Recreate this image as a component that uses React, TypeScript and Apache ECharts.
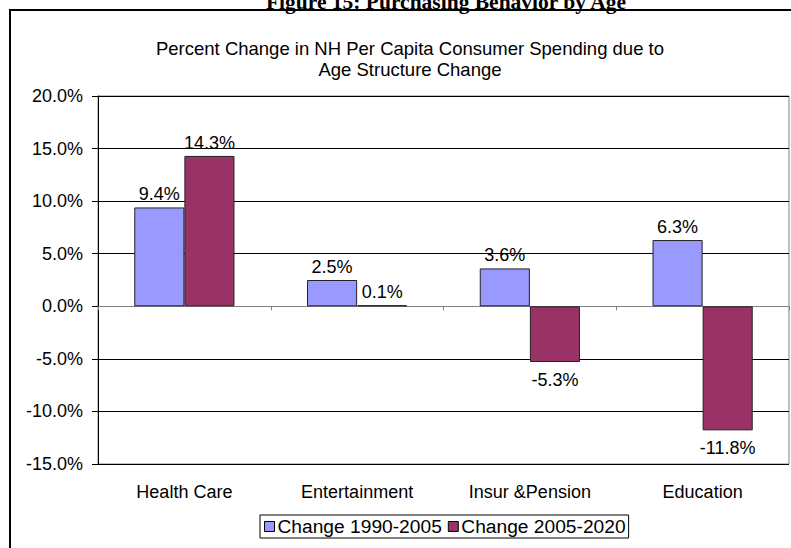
import React, { useEffect, useRef } from "react";
import * as echarts from "echarts";

const categories = ["Health Care", "Entertainment", "Insur &Pension", "Education"];
const series1990_2005 = [9.4, 2.5, 3.6, 6.3];
const series2005_2020 = [14.3, 0.1, -5.3, -11.8];
const seriesNames = ["Change 1990-2005", "Change 2005-2020"];
const pageTitle = "Figure 15: Purchasing Behavior by Age";
const chartTitle = "Percent Change in NH Per Capita Consumer Spending due to\nAge Structure Change";

const FONT = "Arial, 'Liberation Sans', sans-serif";

function toData(vals: number[]) {
  return vals.map((v) => ({
    value: v,
    label: v < 0 ? { position: "bottom", distance: 9 } : { position: "top", distance: 4 },
  }));
}

export default function App() {
  const ref = useRef<HTMLDivElement>(null);
  useEffect(() => {
    if (!ref.current) return;
    const chart = echarts.init(ref.current, null, { renderer: "svg" });
    const labelCfg = {
      show: true,
      color: "#000",
      fontSize: 18,
      fontFamily: FONT,
      formatter: (p: any) => Number(p.value).toFixed(1) + "%",
    };
    chart.setOption({
      animation: false,
      backgroundColor: "#fff",
      title: {
        text: chartTitle,
        left: 405,
        top: 33,
        textAlign: "center",
        textStyle: {
          fontSize: 18.5,
          fontWeight: "normal",
          fontFamily: FONT,
          color: "#000",
          lineHeight: 21,
        },
      },
      graphic: [
        {
          type: "rect",
          shape: { x: 10, y: 10, width: 800, height: 560 },
          style: { fill: "none", stroke: "#000", lineWidth: 2 },
          silent: true,
        },
        {
          type: "text",
          x: 446,
          y: 13,
          style: {
            text: pageTitle,
            fill: "#000",
            font: "bold 21.5px 'Liberation Serif', 'Times New Roman', serif",
            align: "center",
            verticalAlign: "bottom",
          },
          silent: true,
        },
      ],
      legend: {
        data: seriesNames,
        left: 260,
        top: 515,
        orient: "horizontal",
        icon: "rect",
        itemWidth: 10,
        itemHeight: 10,
        itemGap: 6,
        padding: [2, 3, 2, 4],
        borderColor: "#000",
        borderWidth: 1,
        textStyle: { fontSize: 19.2, fontFamily: FONT, color: "#000", padding: [0, 0, 0, -2] },
        itemStyle: { borderColor: "#000", borderWidth: 1 },
      },
      grid: {
        left: 98,
        right: 2,
        top: 96,
        bottom: 84,
        show: true,
        borderColor: "#808080",
        borderWidth: 1,
        backgroundColor: "transparent",
      },
      xAxis: [
        {
          type: "category",
          data: categories,
          axisLine: { onZero: true, lineStyle: { color: "#808080", width: 1 } },
          axisTick: { show: true, length: 4, inside: false, lineStyle: { color: "#808080" } },
          axisLabel: { show: false },
          splitLine: { show: false },
        },
        {
          type: "category",
          data: categories,
          position: "bottom",
          axisLine: { show: false, onZero: false },
          axisTick: { show: false },
          axisLabel: { show: true, margin: 19, fontSize: 18, fontFamily: FONT, color: "#000" },
          splitLine: { show: false },
        },
      ],
      yAxis: {
        type: "value",
        min: -15,
        max: 20,
        interval: 5,
        axisLine: { show: true, lineStyle: { color: "#000", width: 1 } },
        axisTick: { show: true, length: 6, inside: false, lineStyle: { color: "#000" } },
        axisLabel: {
          margin: 15,
          fontSize: 18,
          fontFamily: FONT,
          color: "#000",
          formatter: (v: number) => v.toFixed(1) + "%",
        },
        splitLine: { show: true, lineStyle: { color: "#000", width: 1 } },
      },
      series: [
        {
          name: seriesNames[0],
          type: "bar",
          xAxisIndex: 0,
          data: toData(series1990_2005),
          barGap: "0%",
          barCategoryGap: "42%",
          itemStyle: { color: "#9999FF", borderColor: "#222", borderWidth: 1 },
          label: labelCfg,
        },
        {
          name: seriesNames[1],
          type: "bar",
          xAxisIndex: 0,
          data: toData(series2005_2020),
          barGap: "0%",
          barCategoryGap: "42%",
          itemStyle: { color: "#993366", borderColor: "#222", borderWidth: 1 },
          label: labelCfg,
        },
      ],
    });
    return () => chart.dispose();
  }, []);
  return (
    <div
      ref={ref}
      style={{ position: "fixed", left: 0, top: 0, width: 791, height: 548 }}
    />
  );
}
